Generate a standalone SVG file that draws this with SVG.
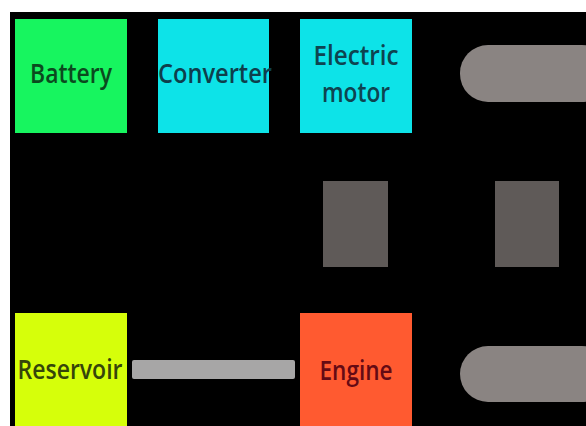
<svg xmlns="http://www.w3.org/2000/svg" width="586" height="426" viewBox="0 0 586 426">
<style>
.lbl{font-family:"Open Sans","Noto Sans","DejaVu Sans",sans-serif;font-size:27px;font-weight:600;text-anchor:middle}
.pill{fill:#8a8482}
.blk{fill:#5f5a58}
</style>
<rect x="0" y="0" width="586" height="426" fill="#ffffff"/>
<rect x="10" y="12" width="576" height="414" fill="#000000"/>
<g id="connectors">
<rect x="132" y="360" width="163" height="19" rx="2" fill="#a7a6a6"/>
</g>
<g id="battery">
<rect x="15" y="19" width="112" height="114" fill="#17f55f"/>
<text class="lbl" x="71" y="83" fill="#0b4a1e" textLength="82" lengthAdjust="spacingAndGlyphs">Battery</text>
</g>
<g id="converter">
<rect x="158" y="19" width="111" height="114" fill="#0de3e8"/>
<text class="lbl" x="215" y="83" fill="#0e3e4c" textLength="114" lengthAdjust="spacingAndGlyphs">Converter</text>
</g>
<g id="electric-motor">
<rect x="300" y="19" width="112" height="114" fill="#0de3e8"/>
<text class="lbl" x="356" y="65" fill="#0e4450" textLength="85" lengthAdjust="spacingAndGlyphs">Electric</text>
<text class="lbl" x="356" y="102" fill="#0e4450" textLength="68" lengthAdjust="spacingAndGlyphs">motor</text>
</g>
<g id="wheel-top">
<rect x="460" y="45" width="150" height="57" rx="28" class="pill"/>
</g>
<g id="block-left">
<rect x="323" y="181" width="65" height="86" class="blk"/>
</g>
<g id="block-right">
<rect x="495" y="181" width="64" height="86" class="blk"/>
</g>
<g id="reservoir">
<rect x="15" y="313" width="112" height="120" fill="#d6ff0a"/>
<text class="lbl" x="70" y="379" fill="#35450a" textLength="105" lengthAdjust="spacingAndGlyphs">Reservoir</text>
</g>
<g id="engine">
<rect x="300" y="313" width="112" height="120" fill="#ff5a30"/>
<text class="lbl" x="356" y="380" fill="#650a14" textLength="73" lengthAdjust="spacingAndGlyphs">Engine</text>
</g>
<g id="wheel-bottom">
<rect x="460" y="346" width="150" height="56" rx="28" class="pill"/>
</g>
</svg>
